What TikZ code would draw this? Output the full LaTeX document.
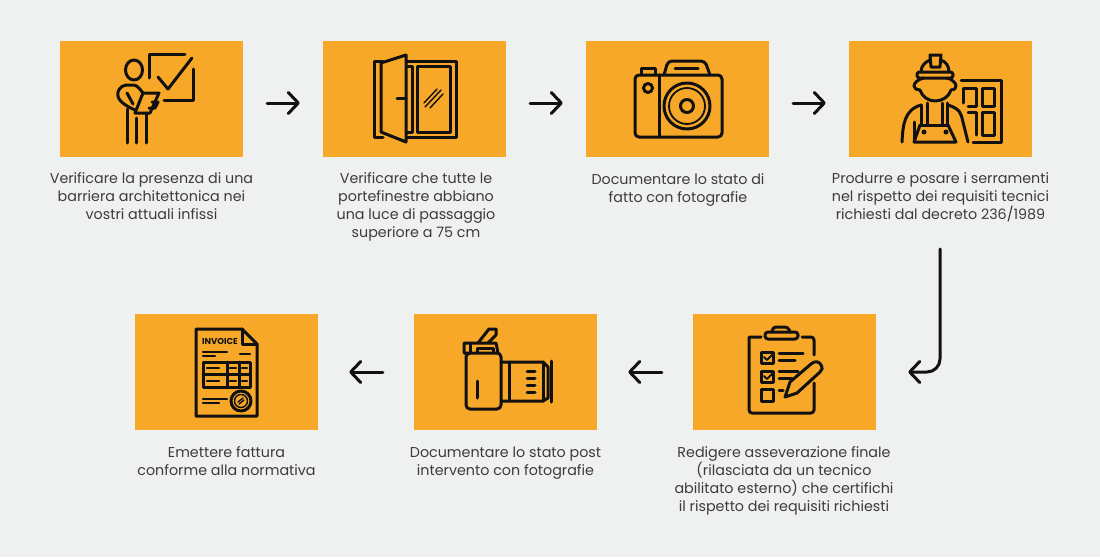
\documentclass[tikz,border=0pt]{standalone}
\usepackage{fontspec}
\setmainfont{Poppins}
\usetikzlibrary{arrows.meta}
\definecolor{bgc}{HTML}{EFF0F0}
\definecolor{org}{HTML}{F8A828}
\definecolor{txt}{HTML}{3C3C3C}
\definecolor{ink}{HTML}{111111}
\tikzset{
  box/.style={fill=org,draw=none,minimum width=183pt,minimum height=116pt,inner sep=0pt},
  lab/.style={align=center,text=txt,inner sep=0pt,font=\fontsize{14.3}{18}\selectfont},
  flow/.style={draw=ink,line width=3pt,line cap=round,line join=round,
    -{Straight Barb[length=10pt,width=21pt,line width=3pt,round]}},
  ic/.style={draw=ink,line width=3pt,line cap=round,line join=round},
  thin ic/.style={draw=ink,line width=1.4pt,line cap=round}
}
\begin{document}
\begin{tikzpicture}[x=1pt,y=-1pt]
\path[fill=bgc] (0,0) rectangle (1100,557);
\useasboundingbox (0,0) rectangle (1100,557);
% boxes
\node[box] (b1) at (151.5,99) {};
\node[box] (b2) at (414.5,99) {};
\node[box] (b3) at (677.5,99) {};
\node[box] (b4) at (940.5,99) {};
\node[box] (b5) at (784.5,372) {};
\node[box] (b6) at (505.5,372) {};
\node[box] (b7) at (226.5,372) {};
% labels
\node[lab] (t1) at (151.5,196.3) {Verificare la presenza di una\\barriera architettonica nei\\vostri attuali infissi};
\node[lab] (t2) at (416,207) {Verificare che tutte le\\portefinestre abbiano\\una luce di passaggio\\superiore a 75 cm};
\node[lab] (t3) at (678,190) {Documentare lo stato di\\fatto con fotografie};
\node[lab] (t4) at (940.5,197) {Produrre e posare i serramenti\\nel rispetto dei requisiti tecnici\\richiesti dal decreto 236/1989};
\node[lab] (t5) at (784,481) {Redigere asseverazione finale\\(rilasciata da un tecnico\\abilitato esterno) che certifichi\\il rispetto dei requisiti richiesti};
\node[lab] (t6) at (505.5,463) {Documentare lo stato post\\intervento con fotografie};
\node[lab] (t7) at (226.5,461) {Emettere fattura\\conforme alla normativa};
% connectors
\coordinate (c0) at (940,249);
\draw[flow,shorten <=24pt,shorten >=23pt] ([yshift=-4pt]b1.east) -- ([yshift=-4pt]b2.west);
\draw[flow,shorten <=24pt,shorten >=23pt] ([yshift=-4pt]b2.east) -- ([yshift=-4pt]b3.west);
\draw[flow,shorten <=24pt,shorten >=23pt] ([yshift=-4pt]b3.east) -- ([yshift=-4pt]b4.west);
\draw[flow,rounded corners=13pt,shorten >=32pt] (c0) |- (b5.east);
\draw[flow,shorten <=31pt,shorten >=31pt] (b5.west) -- (b6.east);
\draw[flow,shorten <=31pt,shorten >=31pt] (b6.west) -- (b7.east);
% icon 1: teacher
\draw[ic] (134,70) ellipse (8.5 and 10);
\draw[ic] (185,54) -- (149,54) -- (149,78);
\draw[ic] (193,69) -- (193,100) -- (164,100);
\draw[ic] (158,77) -- (168,89) -- (192,58);
\draw[ic] (143,93) .. controls (139,88) and (137,85) .. (133,85) -- (126,85) .. controls (120,86) and (117,91) .. (118,96) .. controls (119,102) and (128,107) .. (135,110);
\draw[ic] (127,93) -- (133,104);
\draw[ic] (143,93) -- (159,93) -- (150,113) -- (135,113) -- cycle;
\draw[ic] (152,102) -- (158,102) -- (155,108) -- (149,108);
\draw[ic] (127,143) -- (127,109);
\draw[ic] (136,143) -- (136,118);
\draw[ic] (146,143) -- (146,113);
% icon 2: door
\draw[ic] (381,63) -- (406,55) -- (406,142) -- (381,132) -- cycle;
\draw[ic] (383,61) -- (374,61) -- (374,137) -- (383,137);
\draw[ic] (407,61) -- (456,61) -- (456,137) -- (407,137);
\draw[ic] (417,66) -- (450,66) -- (450,132) -- (417,132) -- cycle;
\draw[ic] (407,66) -- (412,66) -- (412,132) -- (407,132);
\draw[ic] (397,98) -- (406,98);
\draw[thin ic] (424,103) -- (437,89);
\draw[thin ic] (425,107) -- (441,90);
\draw[thin ic] (430,108) -- (443,94);
% icon 3: camera
\draw[ic,rounded corners=4pt] (635,75) rectangle (722,137);
\draw[ic] (659,75) -- (659,137);
\draw[ic,rounded corners=4pt] (664,75) -- (668,61) -- (705,61) -- (710,75);
\draw[ic] (675,68) -- (698,68);
\draw[ic] (641,75) -- (641,68) -- (655,68) -- (655,75);
\draw[ic] (648,88) circle (4.5);
\draw[ic] (687,106) circle (23);
\draw[ic,line width=1.8pt] (687,106) circle (18);
\draw[ic] (687,106) circle (6.5);
% icon 4: worker
\draw[ic,rounded corners=2.5pt] (917,72) rectangle (953,78);
\draw[ic] (921,72) .. controls (921,66) and (925,62) .. (930,60);
\draw[ic] (949,72) .. controls (949,66) and (946,62) .. (941,60);
\draw[ic] (930,55) -- (941,55) -- (940,67) -- (931,67) -- cycle;
\draw[ic] (924,78) .. controls (918,79) and (914,83) .. (914,86) .. controls (914,89) and (917,90) .. (920,90) .. controls (922,97) and (929,101) .. (935,101) .. controls (942,101) and (949,97) .. (951,90) .. controls (954,90) and (956,89) .. (956,86) .. controls (956,83) and (952,79) .. (947,78);
\draw[ic] (902,142) .. controls (903,125) and (904,110) .. (921,105);
\draw[ic] (948,105) .. controls (960,109) and (961,113) .. (963,122) -- (968,142);
\draw[ic] (921,105) -- (921,125);
\draw[ic] (927,103) -- (927,125);
\draw[ic] (942,103) -- (942,125);
\draw[ic] (947,103) -- (947,125);
\draw[ic] (920,125) -- (948,125);
\draw[ic] (920,125) -- (914,142) -- (956,142) -- (948,125);
\draw[ic] (914,122) -- (914,142);
\fill[ink] (924,132) circle (2.5) (946,132) circle (2.5);
\draw[ic] (961,80) -- (1001,80) -- (1001,142) -- (973,142);
\draw[ic] (963,103) -- (963,88) -- (976,88) -- (976,106) -- (968,106);
\draw[ic] (982,88) rectangle (994,106);
\draw[ic] (968,112) -- (976,112) -- (976,135);
\draw[ic] (982,112) rectangle (994,135);
% icon 5: clipboard
\draw[ic] (761,337) -- (749,337) [rounded corners=3pt] -- (749,413) -- (814,413) -- (814,383);
\draw[ic] (802,337) [rounded corners=3pt] -- (814,337) -- (814,355);
\draw[ic,rounded corners=3pt] (765,339) rectangle (798,332);
\draw[ic,rounded corners=3pt] (772,332) -- (773,327) -- (788,327) -- (790,332);
\draw[ic] (761,352) rectangle (773,363);
\draw[ic] (761,371) rectangle (773,382);
\draw[ic] (761,389) rectangle (773,401);
\draw[ic,line width=2pt] (764,357) -- (767,360) -- (773,354);
\draw[ic,line width=2pt] (764,376) -- (767,379) -- (773,373);
\draw[ic] (779,353) -- (803,353);
\draw[ic] (779,360) -- (795,360);
\draw[ic] (779,371) -- (798,371);
\draw[ic] (779,378) -- (792,378);
\draw[ic] (779,390) -- (783,390);
\draw[ic] (785,397) -- (790,382) -- (811,364) .. controls (815,360) and (820,362) .. (821,365) .. controls (823,368) and (822,370) .. (820,372) -- (797,393) -- cycle;
% icon 6: side camera
\draw[ic,rounded corners=4pt] (466,353) rectangle (501,409);
\draw[ic] (477,381) -- (477,398);
\draw[ic] (501,362) -- (543,362) -- (548,367) -- (548,398) -- (543,401) -- (501,401);
\draw[ic] (509,362) -- (509,401);
\draw[ic] (543,362) -- (543,401);
\draw[ic] (551,361) -- (551,402);
\draw[ic] (527,371) -- (535,371);
\draw[ic] (527,378) -- (535,378);
\draw[ic] (527,385) -- (535,385);
\draw[ic] (527,392) -- (535,392);
\draw[ic] (470,353) -- (464,353) -- (464,343) -- (496,343) -- (498,353);
\draw[ic] (470,343) -- (470,353);
\draw[ic] (477,353) -- (477,348) -- (493,348) -- (493,353);
\draw[ic] (478,343) -- (489,329) -- (496,329) -- (496,335) -- (488,343);
% icon 7: invoice
\draw[ic] (196,329) -- (242,329) -- (257,344) -- (257,416) -- (196,416) -- cycle;
\draw[ic] (242,329) -- (242,344) -- (257,344);
\node[inner sep=0pt,text=ink,font=\fontsize{8.6}{10}\selectfont\bfseries] (inv) at (220,341) {INVOICE};
\draw[ic,line width=2.2pt] (203,352) -- (227,352);
\draw[ic,line width=2.2pt] (203,356) -- (215,356);
\draw[ic,line width=2.2pt] (240,354) -- (250,354);
\draw[ic] (203,362) rectangle (250,387);
\draw[ic] (203,374) -- (250,374);
\draw[ic] (227,362) -- (227,387);
\draw[ic] (239,362) -- (239,387);
\foreach \yy in {368,381}{
  \draw[ic,line width=2.2pt] (207,\yy) -- (219,\yy);
  \draw[ic,line width=2.2pt] (230,\yy) -- (236,\yy);
  \draw[ic,line width=2.2pt] (242,\yy) -- (247,\yy);
}
\draw[ic,line width=2.2pt] (203,399) -- (227,399);
\draw[ic,line width=2.2pt] (203,403) -- (219,403);
\draw[ic] (241,401) circle (10);
\draw[ic,line width=1.5pt] (241,401) circle (6.5);
\draw[thin ic] (238,402) -- (243,398);
\draw[thin ic] (239,404) -- (244,400);
\end{tikzpicture}
\end{document}
